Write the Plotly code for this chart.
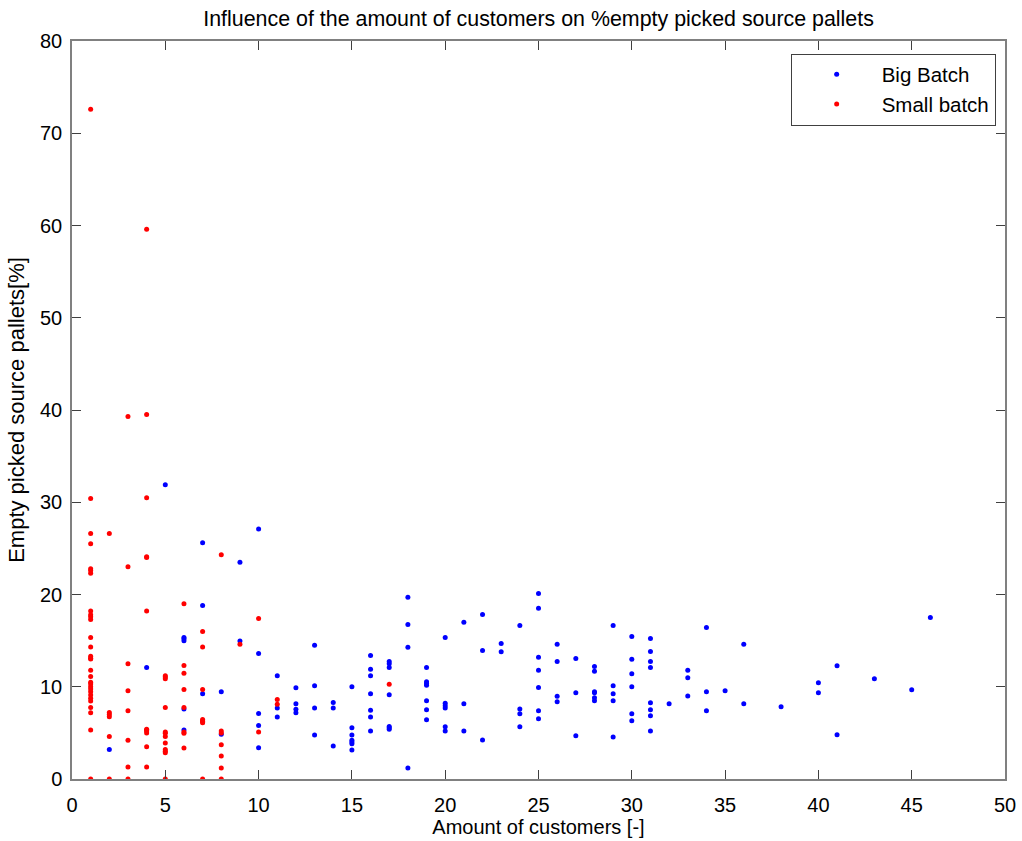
import plotly.graph_objects as go

# Small batch (red)
small_x = [1]*30 + [2]*6 + [3]*8 + [4]*12 + [5]*12 + [6]*8 + [7]*8 + [8]*7 + [9] + [10]*2 + [11]*2 + [17]
small_y = [72.6, 30.4, 26.6, 25.5, 22.8, 22.6, 22.3, 18.2, 17.8, 17.6, 17.3, 15.35, 14.3, 13.3, 13.1, 13.0,
           11.8, 11.1, 10.5, 10.3, 10.0, 9.75, 9.46, 9.1, 8.74, 8.45, 7.76, 7.18, 5.3, 0,
           26.6, 7.2, 7.0, 6.75, 4.6, 0,
           39.3, 23.0, 12.5, 9.57, 7.4, 4.2, 1.3, 0,
           59.6, 39.5, 30.5, 24.1, 24.0, 18.2, 5.4, 5.3, 5.2, 5.0, 3.5, 1.3,
           11.2, 11.05, 10.87, 7.76, 5.1, 4.95, 4.6, 3.9, 3.2, 3.0, 2.85, 0,
           19.0, 12.3, 11.45, 9.7, 7.76, 5.1, 4.95, 3.36,
           16.0, 14.3, 9.7, 6.45, 6.3, 6.2, 6.1, 0,
           24.3, 5.2, 5.0, 3.7, 2.5, 1.2, 0,
           14.6,
           17.4, 5.1,
           8.63, 8.09,
           10.26]

# Big batch (blue)
big_x = ([2] + [4] + [5] + [6]*5 + [7]*3 + [8]*2 + [9]*2 + [10]*5 + [11]*3 + [12]*4 + [13]*4 + [14]*3
         + [15]*7 + [16]*7 + [17]*7 + [18]*4 + [19]*7 + [20]*6 + [21]*3 + [22]*3 + [23]*2 + [24]*4
         + [25]*7 + [26]*4 + [27]*3 + [28]*6 + [29]*5 + [30]*6 + [31]*8 + [32] + [33]*3 + [34]*3
         + [35] + [36]*2 + [38] + [40]*2 + [41]*2 + [43] + [45] + [46])
big_y = [3.2,
         12.1,
         31.9,
         15.35, 15.2, 15.0, 7.58, 5.3,
         25.6, 18.8, 9.25,
         9.46, 4.84,
         23.5, 14.95,
         27.1, 13.6, 7.1, 5.8, 3.4,
         11.2, 7.69, 6.72,
         9.9, 8.16, 7.55, 7.19,
         14.5, 10.1, 7.69, 4.77,
         8.3, 7.69, 3.58,
         10.0, 5.56, 4.77, 4.19, 4.0, 3.83, 3.14,
         13.4, 11.9, 11.2, 9.24, 7.44, 6.72, 5.2,
         12.75, 12.5, 12.1, 9.14, 5.7, 5.56, 5.4,
         19.7, 16.76, 14.27, 1.19,
         12.1, 10.55, 10.36, 10.15, 8.48, 7.51, 6.43,
         15.35, 8.2, 7.94, 7.69, 5.67, 5.2,
         17.0, 8.16, 5.2,
         17.84, 13.94, 4.23,
         14.7, 13.8,
         16.65, 7.58, 7.08, 5.67,
         20.1, 18.5, 13.2, 11.8, 9.93, 7.4, 6.54,
         14.6, 12.75, 8.96, 8.38,
         13.07, 9.35, 4.69,
         12.2, 11.67, 9.46, 9.35, 8.81, 8.49,
         16.65, 10.1, 9.24, 8.49, 4.55,
         15.46, 12.97, 11.4, 10.0, 7.08, 6.32,
         15.24, 13.83, 12.75, 12.1, 8.27, 7.51, 6.86, 5.2,
         8.16,
         11.8, 10.98, 9.0,
         16.43, 9.46, 7.4,
         9.57,
         14.6, 8.16,
         7.84,
         10.44, 9.35,
         12.28, 4.8,
         10.87,
         9.68,
         17.52]

x_ticks = list(range(0, 51, 5))
y_ticks = list(range(0, 81, 10))

FONT = "Liberation Sans, Arial, sans-serif"

fig = go.Figure()
fig.add_trace(go.Scatter(x=big_x, y=big_y, mode="markers", name="Big Batch",
                         marker=dict(color="#0000FF", size=5, symbol="circle", line=dict(width=0))))
fig.add_trace(go.Scatter(x=small_x, y=small_y, mode="markers", name="Small batch",
                         marker=dict(color="#FF0000", size=5, symbol="circle", line=dict(width=0))))

axis_common = dict(showgrid=False, zeroline=False, showline=True, linecolor="#808080", linewidth=1.5,
                   mirror="allticks", ticks="inside", ticklen=9, tickcolor="#404040", tickwidth=1,
                   automargin=False,
                   tickfont=dict(family=FONT, size=20, color="black"))

fig.update_layout(
    width=1022, height=841,
    paper_bgcolor="white", plot_bgcolor="white",
    margin=dict(l=72, r=17, t=41, b=62),
    title=dict(text="Influence of the amount of customers on %empty picked source pallets",
               x=0.527, xanchor="center", y=0.978, yanchor="middle",
               font=dict(family=FONT, size=21.4, color="black")),
    xaxis=dict(range=[0, 50], tickvals=x_ticks, ticklabelstandoff=7,
               title=dict(text="Amount of customers [-]", standoff=4,
                          font=dict(family=FONT, size=20, color="black")),
               **axis_common),
    yaxis=dict(range=[0, 80], tickvals=y_ticks, ticklabelstandoff=4,
               title=dict(text="Empty picked source pallets[%]", standoff=9,
                          font=dict(family=FONT, size=22, color="black")),
               **axis_common),
    legend=dict(x=0.990, xanchor="right", y=0.983, yanchor="top",
                bordercolor="#404040", borderwidth=1, bgcolor="white",
                font=dict(family=FONT, size=20.5, color="black"),
                itemwidth=80, tracegroupgap=0),
    showlegend=True,
)

fig.write_html("out.html")
